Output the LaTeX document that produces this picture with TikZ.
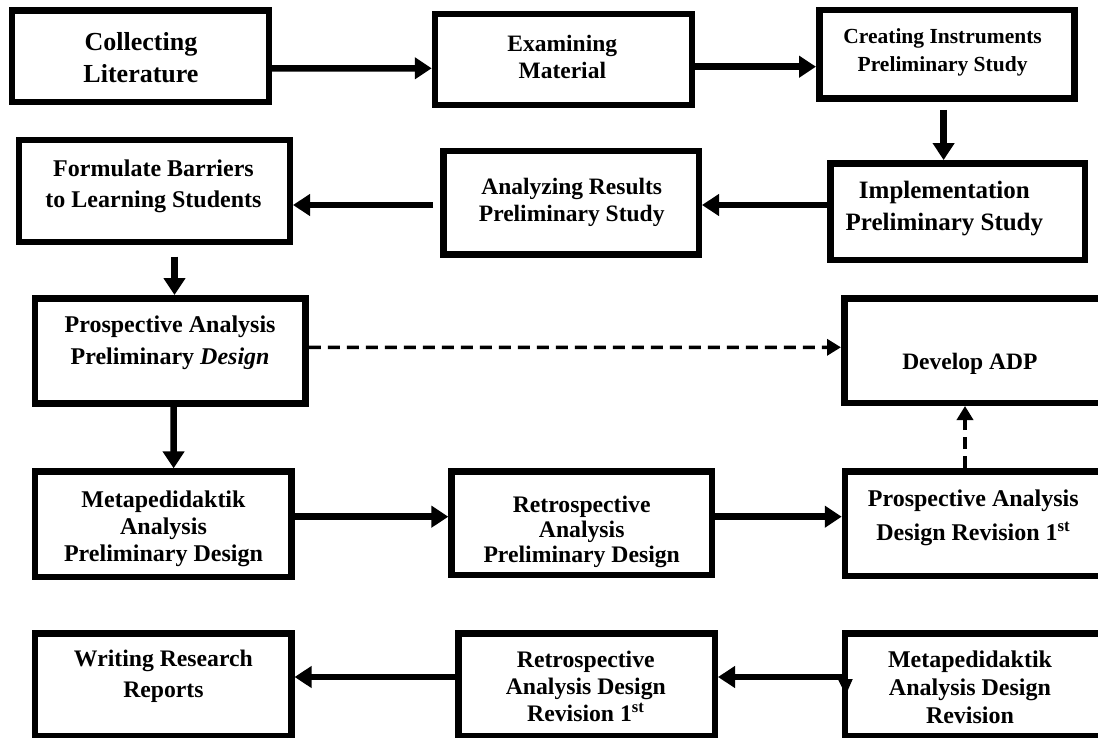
\documentclass[tikz,border=0pt]{standalone}
\usepackage{fontspec}
\setmainfont{Liberation Serif}
\usetikzlibrary{arrows.meta,calc}
\begin{document}
\begin{tikzpicture}[x=1pt,y=-1pt,
  box/.style={draw, line width=6.5pt, rectangle, inner sep=0pt},
  txt/.style 2 args={align=center, inner sep=0pt, yshift=-2.5pt,
    font=\fontsize{#1}{#2}\selectfont\bfseries,
    execute at begin node=\strut, execute at end node=\strut},
  arr/.style={line width=6.5pt, -{Triangle[length=17pt,width=21pt]}},
  darr/.style={line width=3.5pt, dash pattern=on 12pt off 7pt, -{Triangle[length=14pt,width=16pt]}}]
\useasboundingbox (0,0) rectangle (1098,738);
\fill[white] (0,0) rectangle (1098,738);
\clip (0,0) rectangle (1098,738);

% boxes
\node[box, minimum width=256.7pt, minimum height=91.2pt] (b1) at (140.4,56.2) {};
\node[box, minimum width=256.8pt, minimum height=90.8pt] (b2) at (563.4,59.4) {};
\node[box, minimum width=255.1pt, minimum height=88.5pt] (b3) at (946.8,54.2) {};
\node[box, minimum width=254.5pt, minimum height=96.8pt] (b4) at (957.5,211.7) {};
\node[box, minimum width=255.5pt, minimum height=103.5pt] (b5) at (571,203) {};
\node[box, minimum width=270.7pt, minimum height=101.8pt] (b6) at (154.4,190.9) {};
\node[box, minimum width=270.6pt, minimum height=105.2pt] (b7) at (170.2,350.9) {};
\node[box, minimum width=262.5pt, minimum height=104.5pt] (b8) at (975.5,350.5) {};
\node[box, minimum width=256.5pt, minimum height=105.2pt] (b9) at (163.1,524.2) {};
\node[box, minimum width=260.2pt, minimum height=103.2pt] (b10) at (581.7,523.2) {};
\node[box, minimum width=261.8pt, minimum height=104.5pt] (b11) at (975.9,523.5) {};
\node[box, minimum width=256.5pt, minimum height=102.5pt] (b12) at (163.1,684.5) {};
\node[box, minimum width=256.5pt, minimum height=102.5pt] (b13) at (586.5,684.5) {};
\node[box, minimum width=261.8pt, minimum height=102.5pt] (b14) at (975.9,684.5) {};

% texts
\node[txt={26}{32.7}] (t1) at (141,59.8) {Collecting\\Literature};
\node[txt={23.5}{26.7}] (t2) at (562.3,58.7) {Examining\\Material};
\node[txt={21.5}{27.7}] (t3) at (942.6,51.6) {Creating Instruments\\Preliminary Study};
\node[txt={25}{31.7}] (t4) at (944.4,207.8) {Implementation\\Preliminary Study};
\node[txt={23.5}{27.7}] (t5) at (571.7,201.6) {Analyzing Results\\Preliminary Study};
\node[txt={24}{30.6}] (t6) at (153.5,185.9) {Formulate Barriers\\to Learning Students};
\node[txt={24}{32.3}] (t7) at (170.1,342.4) {Prospective Analysis\\Preliminary \textit{Design}};
\node[txt={23.5}{28}] (t8) at (969.8,361.1) {Develop ADP};
\node[txt={24}{27}] (t9) at (163.5,527.6) {Metapedidaktik\\Analysis\\Preliminary Design};
\node[txt={23.7}{24.7}] (t10) at (581.7,530.4) {Retrospective\\Analysis\\Preliminary Design};
\node[txt={24}{33.7}] (t11) at (973.3,517.5) {Prospective Analysis\\Design Revision 1\textsuperscript{st}};
\node[txt={23.7}{31.6}] (t12) at (163.4,676.2) {Writing Research\\Reports};
\node[txt={23.7}{27}] (t13) at (585.8,687.6) {Retrospective\\Analysis Design\\Revision 1\textsuperscript{st}};
\node[txt={24}{28}] (t14) at (970,689.1) {Metapedidaktik\\Analysis Design\\Revision};

% connectors
\draw[arr] ($(b1.east)+(0,12.1)$) -- ($(b2.west)+(0,8.9)$);
\draw[arr] ($(b2.east)+(0,7.3)$) -- ($(b3.west)+(0,12.5)$);
\draw[arr] ($(b3.south)+(-3.2,8.3)$) -- ($(b4.north)+(-13.9,0)$);
\draw[arr] ($(b4.west)+(0,-6.7)$) -- ($(b5.east)+(0,2)$);
\draw[arr] ($(b5.west)+(-7,2)$) -- ($(b6.east)+(0,14.1)$);
\draw[arr] ($(b6.south)+(20.1,11.7)$) -- ($(b7.north)+(4.3,0)$);
\draw[darr] ($(b7.east)+(0,-3.6)$) -- ($(b8.west)+(0,-3.2)$);
\draw[arr] ($(b7.south)+(3.4,0)$) -- ($(b9.north)+(10.5,0)$);
\draw[arr] ($(b9.east)+(0,-7.5)$) -- ($(b10.west)+(0,-6.5)$);
\draw[arr] ($(b10.east)+(0,-6.5)$) -- ($(b11.west)+(0,-6.8)$);
\draw[darr] ($(b11.north)+(-10.9,0)$) -- ($(b8.south)+(-10.5,0)$);
\draw[arr] ($(b14.west)+(0,-7.5)$) -- ($(b13.east)+(0,-7.5)$);
\draw[arr] ($(b13.west)+(0,-7.5)$) -- ($(b12.east)+(0,-7.5)$);
% stray arrowhead on the left edge of the last box
\fill ($(b14.west)+(-4,-5.5)$) -- ($(b14.west)+(11,-5.5)$) -- ($(b14.west)+(4,10.5)$) -- cycle;
\end{tikzpicture}
\end{document}
